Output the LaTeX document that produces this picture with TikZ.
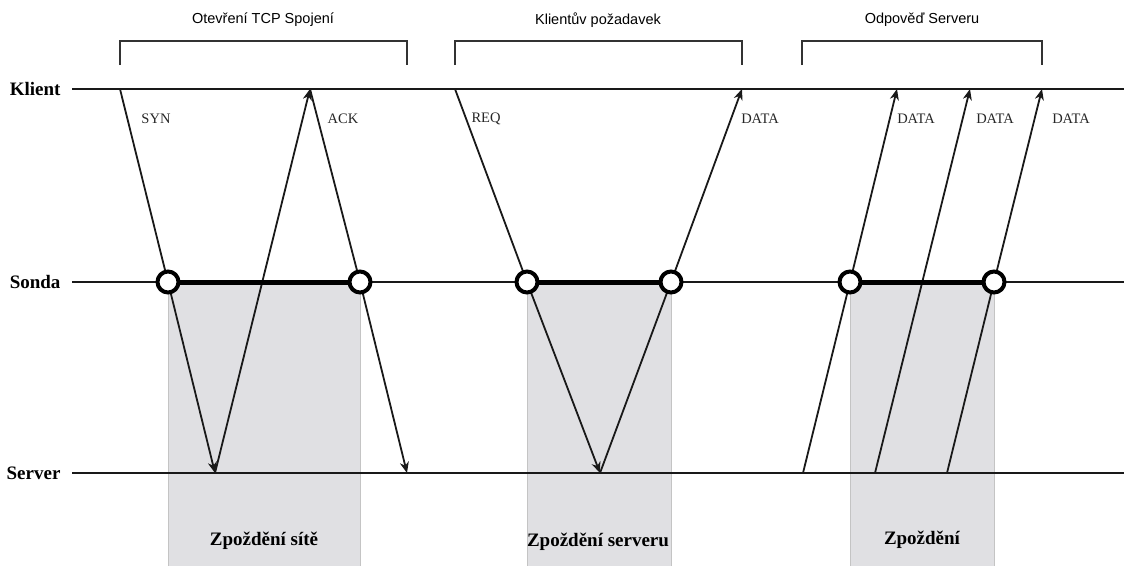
\documentclass[tikz,border=0pt]{standalone}
\usepackage{fontspec}
\setmainfont{Liberation Serif}
\newfontfamily\sansf{Liberation Sans}
\usetikzlibrary{arrows.meta}
\definecolor{delayfill}{HTML}{E0E0E3}
\definecolor{delayedge}{HTML}{C4C4C4}
\begin{document}
\begin{tikzpicture}[x=1pt,y=-1pt,
  life/.style={line width=1.1pt, draw=black!90},
  msg/.style={line width=1.8pt, draw=black!90},
  arr/.style={msg,-{Stealth[length=11pt,width=9pt,inset=3.5pt]}},
  probe/.style={circle, draw=black, fill=white, line width=4pt, minimum size=21pt, inner sep=0pt},
  probebar/.style={line width=5pt, draw=black},
  delay/.style={fill=delayfill, draw=delayedge, line width=1pt},
  bracket/.style={line width=1.1pt, draw=black!80},
  title/.style={font=\sansf\fontsize{14.5}{17}\selectfont, text=black},
  msglbl/.style={font=\fontsize{14.5}{17}\selectfont, text=black!85},
  rowlbl/.style={font=\bfseries\fontsize{19}{22}\selectfont, anchor=east},
  delaylbl/.style={font=\bfseries\fontsize{19}{22}\selectfont}
]
\useasboundingbox (0,0) rectangle (1124,565);

% delay areas
\path[delay] (168,282) rectangle (360,570);
\path[delay] (527,282) rectangle (671,570);
\path[delay] (850,282) rectangle (994,570);

% lifelines
\node[rowlbl] (klient) at (64,89) {Klient};
\node[rowlbl] (sonda) at (64,282) {Sonda};
\node[rowlbl] (server) at (64,473) {Server};
\coordinate (kL) at (72,89);  \coordinate (kR) at (1124,89);
\coordinate (pL) at (72,282); \coordinate (pR) at (1124,282);
\coordinate (sL) at (72,473); \coordinate (sR) at (1124,473);
\draw[life] (kL) -- (kR);
\draw[life] (pL) -- (pR);
\draw[life] (sL) -- (sR);

% brackets and titles
\draw[bracket] (120,65) |- (407,41) -- (407,65);
\draw[bracket] (455,65) |- (742,41) -- (742,65);
\draw[bracket] (802,65) |- (1042,41) -- (1042,65);
\node[title] (t1) at (263,20) {Otevření TCP Spojení};
\node[title] (t2) at (598,20) {Klientův požadavek};
\node[title] (t3) at (922,20) {Odpověď Serveru};

% points
\coordinate (k1) at (120,89);  \coordinate (k2) at (310,89);
\coordinate (k3) at (455,89);  \coordinate (k4) at (742,89);
\coordinate (k5) at (897,89);  \coordinate (k6) at (970,89);
\coordinate (k7) at (1042,89);
\coordinate (s1) at (215,473); \coordinate (s2) at (407,473);
\coordinate (s3) at (600,473); \coordinate (s4) at (803,473);
\coordinate (s5) at (875,473); \coordinate (s6) at (947,473);
\coordinate (c1) at (168,282); \coordinate (c2) at (360,282);
\coordinate (c3) at (527,282); \coordinate (c4) at (671,282);
\coordinate (c5) at (850,282); \coordinate (c6) at (994,282);

% messages
\draw[arr] (k1) -- (c1) -- (s1);
\draw[arr] (s1) -- (k2);
\draw[arr] (k2) -- (c2) -- (s2);
\draw[arr] (k3) -- (c3) -- (s3);
\draw[arr] (s3) -- (c4) -- (k4);
\draw[arr] (s4) -- (c5) -- (k5);
\draw[arr] (s5) -- (k6);
\draw[arr] (s6) -- (c6) -- (k7);

% probe bars
\draw[probebar] (c1) -- (c2);
\draw[probebar] (c3) -- (c4);
\draw[probebar] (c5) -- (c6);

% probe circles
\node[probe] (p1) at (c1) {};
\node[probe] (p2) at (c2) {};
\node[probe] (p3) at (c3) {};
\node[probe] (p4) at (c4) {};
\node[probe] (p5) at (c5) {};
\node[probe] (p6) at (c6) {};

% message labels
\node[msglbl] (lsyn) at (156,119) {SYN};
\node[msglbl] (lack) at (343,119) {ACK};
\node[msglbl] (lreq) at (486,119) {REQ};
\node[msglbl] (ld1) at (760,119) {DATA};
\node[msglbl] (ld2) at (916,119) {DATA};
\node[msglbl] (ld3) at (995,119) {DATA};
\node[msglbl] (ld4) at (1071,119) {DATA};

% delay labels
\node[delaylbl] (d1) at (264,541) {Zpoždění sítě};
\node[delaylbl] (d2) at (598,542) {Zpoždění serveru};
\node[delaylbl] (d3) at (922,540) {Zpoždění};
\end{tikzpicture}
\end{document}
